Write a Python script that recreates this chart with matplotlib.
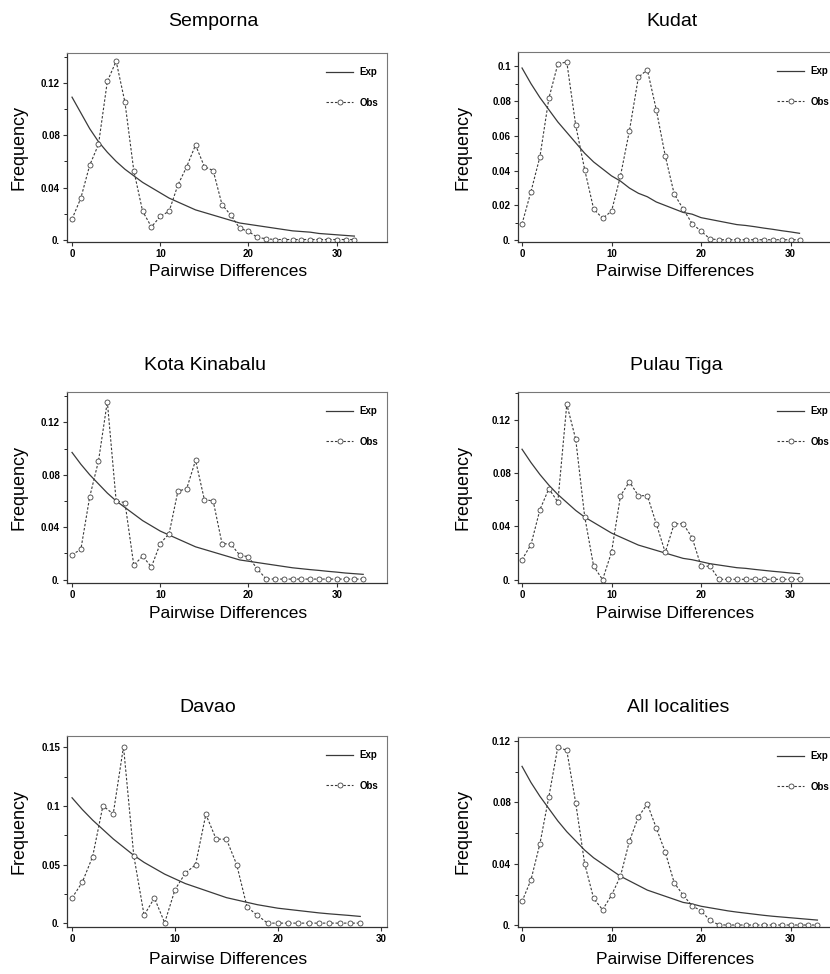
# mismatch distributions, six localities
import matplotlib.pyplot as plt
import numpy as np
from matplotlib.ticker import MultipleLocator

plt.rcParams['font.family'] = ['Liberation Sans', 'DejaVu Sans']

titles = ['Semporna', 'Kudat', 'Kota Kinabalu', 'Pulau Tiga', 'Davao', 'All localities']

semporna_obs = [0.016, 0.032, 0.057, 0.073, 0.121, 0.1365, 0.105, 0.053, 0.022, 0.010,
                0.018, 0.022, 0.042, 0.056, 0.0725, 0.056, 0.053, 0.027, 0.019, 0.009,
                0.0066, 0.002, 0.001, 0.0004, 0.0004, 0.0004, 0.0004, 0.0004, 0.0004, 0.0004,
                0.0004, 0.0004, 0.0004]
semporna_exp = [0.109, 0.097, 0.085, 0.075, 0.067, 0.060, 0.054, 0.049, 0.044, 0.040,
                0.036, 0.032, 0.029, 0.026, 0.023, 0.021, 0.019, 0.017, 0.015, 0.013,
                0.012, 0.011, 0.010, 0.009, 0.008, 0.007, 0.0065, 0.006, 0.005, 0.0045,
                0.004, 0.0035, 0.003]

kudat_obs = [0.0094, 0.028, 0.048, 0.0816, 0.1013, 0.1025, 0.066, 0.0406, 0.018, 0.0126,
             0.0167, 0.037, 0.063, 0.0937, 0.098, 0.075, 0.0485, 0.0266, 0.018, 0.0096,
             0.0052, 0.0008, 0.0003, 0.0003, 0.0003, 0.0003, 0.0003, 0.0003, 0.0003, 0.0003,
             0.0003, 0.0003]
kudat_exp = [0.099, 0.090, 0.082, 0.075, 0.068, 0.062, 0.056, 0.050, 0.045, 0.041,
             0.037, 0.034, 0.030, 0.027, 0.025, 0.022, 0.020, 0.018, 0.016, 0.015,
             0.013, 0.012, 0.011, 0.010, 0.009, 0.0085, 0.0078, 0.007, 0.0063, 0.0055,
             0.0048, 0.004]

kota_obs = [0.019, 0.023, 0.063, 0.0905, 0.1358, 0.060, 0.0587, 0.011, 0.0178, 0.0097,
            0.0275, 0.035, 0.0674, 0.0694, 0.091, 0.061, 0.060, 0.0275, 0.027, 0.0188,
            0.0173, 0.0081, 0.0005, 0.0004, 0.0004, 0.0004, 0.0004, 0.0004, 0.0004, 0.0004,
            0.0004, 0.0004, 0.0004, 0.0004]
kota_exp = [0.097, 0.088, 0.080, 0.073, 0.066, 0.060, 0.055, 0.050, 0.045, 0.041,
            0.037, 0.034, 0.031, 0.028, 0.025, 0.023, 0.021, 0.019, 0.017, 0.015,
            0.014, 0.013, 0.012, 0.011, 0.010, 0.009, 0.0083, 0.0076, 0.007, 0.0063,
            0.0057, 0.005, 0.0045, 0.004]

tiga_obs = [0.015, 0.0264, 0.0526, 0.0684, 0.0583, 0.1318, 0.1054, 0.0474, 0.0101, 0.0,
            0.0207, 0.063, 0.0736, 0.063, 0.0632, 0.042, 0.0205, 0.042, 0.042, 0.0316,
            0.0101, 0.0101, 0.0003, 0.0003, 0.0003, 0.0003, 0.0003, 0.0003, 0.0003, 0.0003,
            0.0003, 0.0003]
tiga_exp = [0.098, 0.088, 0.079, 0.071, 0.064, 0.058, 0.052, 0.047, 0.043, 0.039,
            0.035, 0.032, 0.029, 0.026, 0.024, 0.022, 0.020, 0.018, 0.016, 0.015,
            0.0135, 0.012, 0.011, 0.010, 0.009, 0.0085, 0.0077, 0.007, 0.0063, 0.0057,
            0.005, 0.0045]

davao_obs = [0.0217, 0.0352, 0.0569, 0.1002, 0.0932, 0.1506, 0.0577, 0.007, 0.0217, 0.0006,
             0.0287, 0.0428, 0.050, 0.0929, 0.0718, 0.0718, 0.050, 0.0141, 0.007, 0.0003,
             0.0003, 0.0003, 0.0003, 0.0003, 0.0003, 0.0003, 0.0003, 0.0003, 0.0003]
davao_exp = [0.107, 0.097, 0.088, 0.080, 0.072, 0.065, 0.058, 0.052, 0.047, 0.042,
             0.038, 0.034, 0.031, 0.028, 0.025, 0.022, 0.020, 0.018, 0.016, 0.0145,
             0.013, 0.012, 0.011, 0.010, 0.009, 0.0082, 0.0075, 0.0068, 0.006]

all_obs = [0.0156, 0.0297, 0.0532, 0.0838, 0.1161, 0.1139, 0.0796, 0.0401, 0.0176, 0.0102,
           0.0197, 0.0321, 0.0549, 0.0707, 0.079, 0.0634, 0.0477, 0.0278, 0.0197, 0.0128,
           0.0095, 0.0033, 0.0004, 0.0003, 0.0003, 0.0003, 0.0003, 0.0003, 0.0003, 0.0003,
           0.0003, 0.0003, 0.0003, 0.0003]
all_exp = [0.1035, 0.093, 0.084, 0.076, 0.068, 0.061, 0.055, 0.049, 0.044, 0.040,
           0.036, 0.032, 0.029, 0.026, 0.023, 0.021, 0.019, 0.017, 0.015, 0.014,
           0.0125, 0.0115, 0.0105, 0.0095, 0.0087, 0.008, 0.0073, 0.0066, 0.006, 0.0055,
           0.005, 0.0045, 0.004, 0.0035]

obs_series = [semporna_obs, kudat_obs, kota_obs, tiga_obs, davao_obs, all_obs]
exp_series = [semporna_exp, kudat_exp, kota_exp, tiga_exp, davao_exp, all_exp]

yticks_004 = [0, 0.04, 0.08, 0.12]
ylabels_004 = ['0.', '0.04', '0.08', '0.12']
yticks_kudat = [0, 0.02, 0.04, 0.06, 0.08, 0.1]
ylabels_kudat = ['0.', '0.02', '0.04', '0.06', '0.08', '0.1']
yticks_davao = [0, 0.05, 0.1, 0.15]
ylabels_davao = ['0.', '0.05', '0.1', '0.15']
xticks = [0, 10, 20, 30]
xlabels = ['0', '10', '20', '30']

W, H = 830, 974
fig = plt.figure(figsize=(W / 100, H / 100), dpi=100)

# pixel boxes: left, top, right, bottom
boxes = [(67, 53, 387, 242), (518, 52, 838, 242),
         (67, 392, 387, 583), (518, 392, 838, 583),
         (67, 736, 387, 927), (518, 737, 838, 927)]
ylims = [(-0.0015, 0.1427), (-0.001, 0.1082), (-0.0026, 0.1431),
         (-0.0025, 0.141), (-0.003, 0.1596), (-0.001, 0.1226)]
xlims = [(-0.57, 35.7), (-0.45, 35.3), (-0.57, 35.7), (-0.45, 35.3),
         (-0.49, 30.6), (-0.45, 35.3)]
yt = [(yticks_004, ylabels_004, 0.02), (yticks_kudat, ylabels_kudat, 0.01),
      (yticks_004, ylabels_004, 0.02), (yticks_004, ylabels_004, 0.02),
      (yticks_davao, ylabels_davao, 0.025), (yticks_004, ylabels_004, 0.02)]
title_pos = [(213, 22), (672, 22), (205, 365), (676, 365), (208, 707), (678, 707)]
ylab_x = [19, 463, 19, 463, 19, 463]
xlab = [(228, 271), (675, 271), (228, 613), (675, 613), (228, 960), (675, 960)]

for i in range(6):
    l, t, r, b = boxes[i]
    ax = fig.add_axes([l / W, 1 - b / H, (r - l) / W, (b - t) / H])
    obs = obs_series[i]
    exp = exp_series[i]
    ax.plot(np.arange(len(exp)), exp, color='#3a3a3a', lw=0.9, label='Exp')
    ax.plot(np.arange(len(obs)), obs, color='#3a3a3a', lw=0.8, ls=(0, (2.2, 1.6)),
            marker='o', ms=3.6, mfc='white', mec='#444444', mew=0.6, label='Obs')
    ax.set_xlim(*xlims[i])
    ax.set_ylim(*ylims[i])
    ticks, labs, minor = yt[i]
    ax.set_yticks(ticks)
    ax.set_yticklabels(labs)
    ax.yaxis.set_minor_locator(MultipleLocator(minor))
    ax.set_xticks(xticks)
    ax.set_xticklabels(xlabels)
    ax.tick_params(labelsize=7, length=3, width=0.8, color='#333333', pad=2)
    ax.tick_params(which='minor', length=2, width=0.6)
    for lab in ax.get_xticklabels() + ax.get_yticklabels():
        lab.set_fontweight('bold')
    for side in ['top', 'right']:
        ax.spines[side].set_color('#777777')
        ax.spines[side].set_linewidth(0.8)
    for side in ['left', 'bottom']:
        ax.spines[side].set_color('#333333')
        ax.spines[side].set_linewidth(0.9)
    leg = ax.legend(loc='upper left', bbox_to_anchor=(0.81, 0.925), frameon=False,
                    borderpad=0, borderaxespad=0, labelspacing=2.1, handlelength=2.8,
                    handletextpad=0.6, prop={'size': 7, 'weight': 'bold'})
    fig.text(title_pos[i][0] / W, 1 - title_pos[i][1] / H, titles[i],
             fontsize=14, ha='center', va='center')
    fig.text(ylab_x[i] / W, 1 - (t + b) / 2 / H, 'Frequency', rotation=90,
             fontsize=13, ha='center', va='center')
    fig.text(xlab[i][0] / W, 1 - xlab[i][1] / H, 'Pairwise Differences',
             fontsize=12.5, ha='center', va='center')

fig.savefig('out.png', dpi=100)
